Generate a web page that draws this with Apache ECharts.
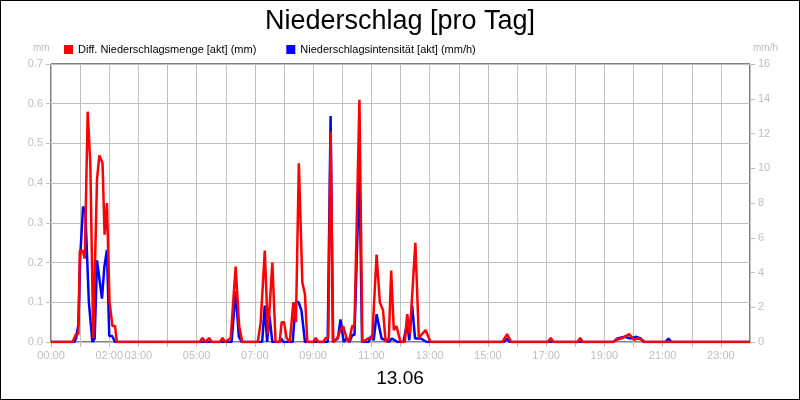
<!DOCTYPE html>
<html>
<head>
<meta charset="utf-8">
<script src="https://cdn.jsdelivr.net/npm/echarts@6/dist/echarts.min.js"></script>
<style>
html, body { margin: 0; padding: 0; background: #fff; }
#chart { width: 798px; height: 398px; border: 1px solid #000; }
</style>
</head>
<body>
<div id="chart"></div>
<script>
// time in hours of day, value
var mengeTimes = [0, 0.74, 0.86, 0.94, 0.99, 1.09, 1.16, 1.26, 1.35, 1.45, 1.58, 1.66, 1.77, 1.84, 1.92, 2.01, 2.11, 2.2, 2.26,
    5.1, 5.2, 5.3, 5.43, 5.52, 5.8, 5.89, 5.98, 6.17, 6.34, 6.46, 6.57,
    7.1, 7.2, 7.34, 7.45, 7.6, 7.71, 7.85, 7.92, 8.0, 8.09, 8.2, 8.32, 8.41, 8.51, 8.63, 8.72, 8.8,
    9.0, 9.09, 9.18, 9.35, 9.43, 9.52, 9.6, 9.69, 9.83, 9.94, 10.03, 10.15, 10.23, 10.34, 10.42, 10.59, 10.69,
    10.91, 11.03, 11.18, 11.29, 11.4, 11.49, 11.6, 11.68, 11.77, 11.86, 12.0,
    12.15, 12.23, 12.32, 12.51, 12.63, 12.74, 12.86, 13.03,
    15.5, 15.66, 15.8, 17.05, 17.16, 17.25, 18.08, 18.17, 18.26,
    19.3, 19.39, 19.62, 19.85, 20.02, 20.15, 20.3, 20.4, 24];
var mengeValues = [0, 0, 0.02, 0.02, 0.23, 0.23, 0.21, 0.58, 0.45, 0.01, 0.41, 0.47, 0.45, 0.27, 0.35, 0.1, 0.04, 0.04, 0,
    0, 0.01, 0, 0.01, 0, 0, 0.01, 0, 0.01, 0.19, 0.04, 0,
    0, 0.05, 0.23, 0.02, 0.2, 0, 0, 0.05, 0.05, 0.01, 0, 0.1, 0.05, 0.45, 0.15, 0.12, 0,
    0, 0.01, 0, 0, 0.01, 0.01, 0.53, 0, 0.01, 0.03, 0.04, 0.01, 0, 0.04, 0.04, 0.61, 0,
    0.01, 0.01, 0.22, 0.1, 0.08, 0, 0.01, 0.18, 0.03, 0.04, 0,
    0, 0.07, 0.02, 0.25, 0.01, 0.02, 0.03, 0,
    0, 0.02, 0, 0, 0.01, 0, 0, 0.01, 0,
    0, 0.005, 0.01, 0.02, 0.005, 0.01, 0.005, 0, 0];
var intensTimes = [0, 0.8, 0.86, 0.94, 1.0, 1.1, 1.18, 1.3, 1.42, 1.5, 1.58, 1.75, 1.83, 1.92, 2.0, 2.1, 2.2,
    6.2, 6.34, 6.45, 6.55, 6.92, 6.97, 7.05, 7.25, 7.34, 7.42, 7.5, 7.6, 7.85, 7.9, 7.98,
    8.3, 8.4, 8.5, 8.6, 8.72, 9.5, 9.6, 9.68, 9.85, 9.94, 10.05, 10.15, 10.25, 10.34, 10.42, 10.59, 10.68,
    10.9, 11.0, 11.08, 11.18, 11.35, 11.5, 11.6, 11.7, 11.9,
    12.1, 12.23, 12.3, 12.4, 12.5, 12.7, 12.9,
    15.55, 15.66, 15.75, 19.3, 19.45, 19.7, 19.9, 20.1, 20.25, 20.35, 21.1, 21.2, 21.3, 24];
var intensValues = [0, 0, 0.2, 1, 4.8, 7.8, 7.5, 2.3, 0, 0.2, 4.7, 2.5, 4.3, 5.3, 0.35, 0.35, 0,
    0, 2.9, 0.3, 0, 0, 0.1, 0, 0, 2.1, 0, 1.5, 0, 0, 0.2, 0,
    0, 2.3, 2.3, 1.8, 0, 0, 13, 0, 0.2, 1.3, 0, 0.2, 0, 0.4, 0.4, 10, 0,
    0, 0.35, 0.1, 1.6, 0.2, 0.1, 0, 0.2, 0,
    0, 1.15, 0.1, 2.1, 0.2, 0.2, 0,
    0, 0.2, 0, 0, 0.2, 0.3, 0.2, 0.3, 0.2, 0, 0, 0.2, 0, 0];
var shownHours = [0, 2, 3, 5, 7, 9, 11, 13, 15, 17, 19, 21, 23];

function pairs(t, v) { return t.map(function (x, i) { return [x, v[i]]; }); }
function hh(h) { return (h < 10 ? '0' : '') + h + ':00'; }

var chart = echarts.init(document.getElementById('chart'));
var grey = '#bdbdbd';
chart.setOption({
    animation: false,
    title: {
        text: 'Niederschlag [pro Tag]', left: 'center', top: 2,
        textStyle: { fontFamily: 'Liberation Sans', fontSize: 27, fontWeight: 'normal', color: '#000' }
    },
    legend: {
        left: 58, top: 38, itemWidth: 9, itemHeight: 9, itemGap: 30, icon: 'rect',
        textStyle: { fontFamily: 'Liberation Sans', fontSize: 11, color: '#000' },
        data: ['Diff. Niederschlagsmenge [akt] (mm)', 'Niederschlagsintensität [akt] (mm/h)']
    },
    graphic: [
        { type: 'text', left: 32, top: 42, style: { text: 'mm', fontSize: 10, fontFamily: 'Liberation Sans', fill: grey } },
        { type: 'text', left: 752, top: 42, style: { text: 'mm/h', fontSize: 10, fontFamily: 'Liberation Sans', fill: grey } },
        { type: 'text', left: 'center', top: 368, style: { text: '13.06', fontSize: 19, fontFamily: 'Liberation Sans', fill: '#000' } }
    ],
    grid: { left: 50, right: 49, top: 63, bottom: 57, show: true, borderColor: '#000', borderWidth: 1 },
    xAxis: {
        type: 'value', min: 0, max: 24, interval: 1,
        axisLine: { show: false },
        axisTick: { show: true, lineStyle: { color: grey } },
        splitLine: { show: true, lineStyle: { color: '#c0c0c0', width: 1 } },
        axisLabel: {
            color: grey, fontFamily: 'Liberation Sans', fontSize: 11, showMaxLabel: false,
            formatter: function (v) { return shownHours.indexOf(v) >= 0 ? hh(v) : ''; }
        }
    },
    yAxis: [{
        type: 'value', min: 0, max: 0.7, interval: 0.1,
        axisLine: { show: false }, axisTick: { show: true, lineStyle: { color: grey } },
        splitLine: { lineStyle: { color: '#c0c0c0' } },
        axisLabel: { color: grey, fontFamily: 'Liberation Sans', fontSize: 11, formatter: function (v) { return v.toFixed(1); } }
    }, {
        type: 'value', min: 0, max: 16, interval: 2,
        axisLine: { show: false }, axisTick: { show: true, lineStyle: { color: grey } },
        splitLine: { show: false },
        axisLabel: { color: grey, fontFamily: 'Liberation Sans', fontSize: 11 }
    }],
    series: [{
        name: 'Niederschlagsintensität [akt] (mm/h)', type: 'line', yAxisIndex: 1,
        data: pairs(intensTimes, intensValues), showSymbol: false, color: '#0000ff',
        lineStyle: { width: 2.5, color: '#0000ff' }
    }, {
        name: 'Diff. Niederschlagsmenge [akt] (mm)', type: 'line', yAxisIndex: 0,
        data: pairs(mengeTimes, mengeValues), showSymbol: false, color: '#ff0000',
        lineStyle: { width: 2.5, color: '#ff0000' }
    }]
});
</script>
</body>
</html>
